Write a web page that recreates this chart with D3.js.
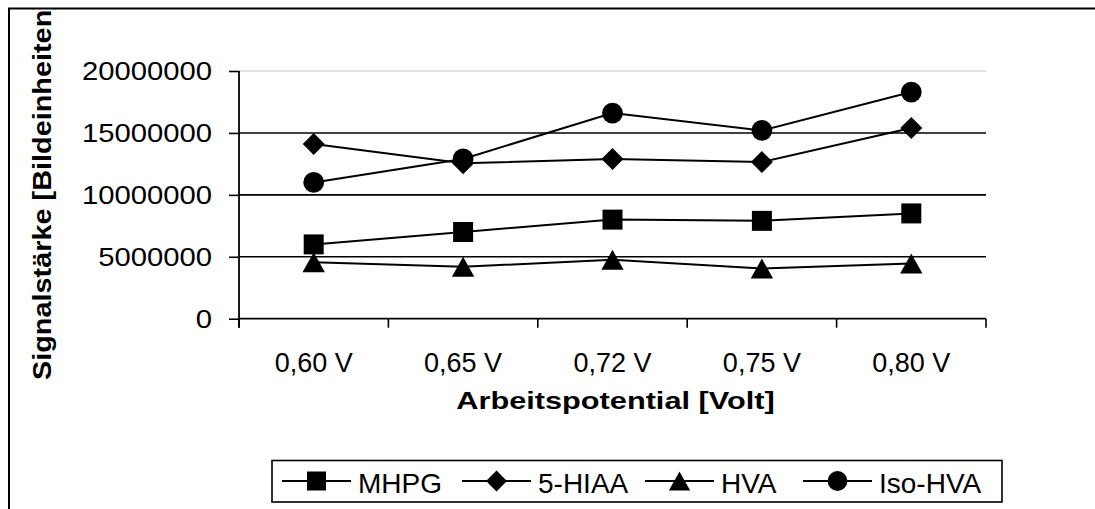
<!DOCTYPE html>
<html>
<head>
<meta charset="utf-8">
<script src="https://cdn.jsdelivr.net/npm/d3@7/dist/d3.min.js"></script>
<style>
  html, body { margin: 0; padding: 0; background: #fff; }
  svg { display: block; }
  text { font-family: Arial, "Liberation Sans", sans-serif; fill: #000; }
</style>
</head>
<body>
<svg id="chart" width="1095" height="509"></svg>
<script>
// Signal strength per working potential, four analytes
const categories = ["0,60 V", "0,65 V", "0,72 V", "0,75 V", "0,80 V"];
const mhpg   = [6000000, 7000000, 8000000, 7900000, 8500000];
const hiaa   = [14100000, 12550000, 12900000, 12650000, 15400000];
const hva    = [4550000, 4200000, 4750000, 4050000, 4450000];
const isoHva = [11000000, 12900000, 16600000, 15200000, 18300000];
const seriesNames = ["MHPG", "5-HIAA", "HVA", "Iso-HVA"];
const yTicks = [0, 5000000, 10000000, 15000000, 20000000];
const xTitle = "Arbeitspotential [Volt]";
const yTitle = "Signalstärke [Bildeinheiten]";

const series = [
  { name: seriesNames[0], values: mhpg,   marker: "square" },
  { name: seriesNames[1], values: hiaa,   marker: "diamond" },
  { name: seriesNames[2], values: hva,    marker: "triangle" },
  { name: seriesNames[3], values: isoHva, marker: "circle" }
];

const svg = d3.select("#chart");

// plot area
const plot = { left: 239, right: 986, top: 71, bottom: 318.7 };

const x = d3.scaleBand().domain(categories).range([plot.left, plot.right]);
const y = d3.scaleLinear().domain([0, d3.max(yTicks)]).range([plot.bottom, plot.top]);

// marker path builders (centred on 0,0)
function markerPath(type, s) {
  const h = s / 2;
  switch (type) {
    case "square":
      return `M${-h},${-h}H${h}V${h}H${-h}Z`;
    case "diamond": {
      const d = s * 0.55;
      return `M0,${-d}L${d},0L0,${d}L${-d},0Z`;
    }
    case "triangle": {
      const w = s * 0.56, t = s * 0.5;
      return `M0,${-t}L${w},${t}L${-w},${t}Z`;
    }
    case "circle": {
      const r = s * 0.52;
      return `M${r},0A${r},${r},0,1,1,${-r},0A${r},${r},0,1,1,${r},0Z`;
    }
  }
}

// outer chart frame (runs off the right and bottom edges)
const frameClip = svg.append("defs").append("clipPath").attr("id", "frameClip");
frameClip.append("rect").attr("x", 10).attr("y", 9.5).attr("width", 1200).attr("height", 600);
svg.append("rect")
  .attr("x", 9).attr("y", 8.5).attr("width", 1200).attr("height", 700)
  .attr("fill", "none").attr("stroke", "#000").attr("stroke-width", 2);

// gridlines
svg.append("g")
  .selectAll("line")
  .data(yTicks.filter(v => v > 0))
  .join("line")
  .attr("x1", plot.left).attr("x2", plot.right)
  .attr("y1", d => y(d)).attr("y2", d => y(d))
  .attr("stroke", d => d === d3.max(yTicks) ? "#c8c8c8" : "#000")
  .attr("stroke-width", d => d === d3.max(yTicks) ? 1.2 : 1.6);

// y axis
const yAxis = svg.append("g")
  .attr("transform", `translate(${plot.left},0)`)
  .call(d3.axisLeft(y).tickValues(yTicks).tickFormat(d3.format("d")).tickSize(10).tickPadding(0));
yAxis.select(".domain").remove();
yAxis.selectAll(".tick line").attr("stroke", "#000").attr("stroke-width", 1.6);
yAxis.selectAll(".tick text")
  .attr("x", null).attr("dy", null)
  .attr("font-size", 25)
  .attr("dominant-baseline", "central")
  .attr("transform", "translate(-27,0) scale(1.17,1)");
svg.append("line")
  .attr("x1", plot.left).attr("x2", plot.left)
  .attr("y1", plot.top).attr("y2", plot.bottom + 9)
  .attr("stroke", "#000").attr("stroke-width", 1.8);

// x axis: labels at category centres, ticks at category boundaries
const xAxis = svg.append("g")
  .attr("transform", `translate(0,${plot.bottom})`)
  .call(d3.axisBottom(x).tickSize(0).tickPadding(34));
xAxis.select(".domain").remove();
xAxis.selectAll(".tick text").attr("font-size", 27);
svg.append("line")
  .attr("x1", plot.left).attr("x2", plot.right)
  .attr("y1", plot.bottom).attr("y2", plot.bottom)
  .attr("stroke", "#000").attr("stroke-width", 1.8);
const boundaries = categories.map(c => x(c)).concat([x(categories[categories.length - 1]) + x.bandwidth()]);
svg.append("g")
  .selectAll("line")
  .data(boundaries)
  .join("line")
  .attr("x1", d => d).attr("x2", d => d)
  .attr("y1", plot.bottom).attr("y2", plot.bottom + 9)
  .attr("stroke", "#000").attr("stroke-width", 1.6);

// axis titles
svg.append("text")
  .attr("transform", `translate(${(plot.left + plot.right) / 2 + 3},409) scale(1.28,1)`)
  .attr("text-anchor", "middle")
  .attr("font-size", 24)
  .attr("font-weight", "bold")
  .text(xTitle);

svg.append("g").attr("clip-path", "url(#frameClip)")
  .append("text")
  .attr("transform", "translate(51,380) rotate(-90) scale(1.11,1)")
  .attr("text-anchor", "start")
  .attr("font-size", 26)
  .attr("font-weight", "bold")
  .text(yTitle);

// series lines and markers
const line = d3.line()
  .x((d, i) => x(categories[i]) + x.bandwidth() / 2)
  .y(d => y(d));

const sg = svg.append("g")
  .selectAll("g")
  .data(series)
  .join("g");

sg.append("path")
  .attr("d", d => line(d.values))
  .attr("fill", "none")
  .attr("stroke", "#000")
  .attr("stroke-width", 2);

sg.each(function (s) {
  d3.select(this).selectAll("path.mk")
    .data(s.values)
    .join("path")
    .attr("class", "mk")
    .attr("transform", (d, i) => `translate(${x(categories[i]) + x.bandwidth() / 2},${y(d)})`)
    .attr("d", markerPath(s.marker, 20))
    .attr("fill", "#000");
});

// legend
const legend = svg.append("g");
legend.append("rect")
  .attr("x", 272).attr("y", 460.5).attr("width", 730).attr("height", 41.5)
  .attr("fill", "#fff").attr("stroke", "#000").attr("stroke-width", 1.6);

const legendItemX = [282, 462, 645, 803];
const li = legend.selectAll("g.item")
  .data(series)
  .join("g")
  .attr("class", "item")
  .attr("transform", (d, i) => `translate(${legendItemX[i]},481)`);
li.append("line")
  .attr("x1", 0).attr("x2", 69).attr("y1", 0).attr("y2", 0)
  .attr("stroke", "#000").attr("stroke-width", 2);
li.append("path")
  .attr("transform", "translate(34.5,0)")
  .attr("d", d => markerPath(d.marker, 19))
  .attr("fill", "#000");
li.append("text")
  .attr("x", 76).attr("y", 12)
  .attr("font-size", 28)
  .text(d => d.name);
</script>
</body>
</html>
